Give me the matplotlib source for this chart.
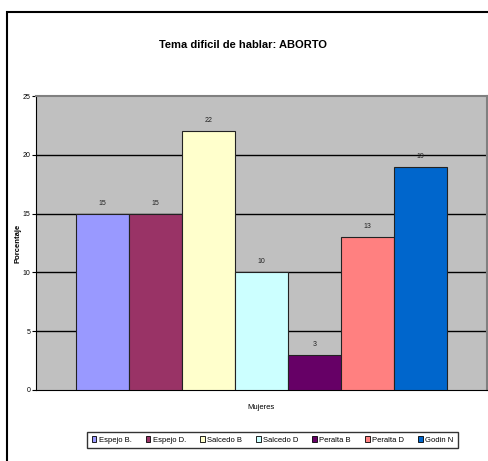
import matplotlib
matplotlib.use("Agg")
import matplotlib.pyplot as plt
from matplotlib.patches import Rectangle, Patch

series = ["Espejo B.", "Espejo D.", "Salcedo B", "Salcedo D", "Peralta B", "Peralta D", "Godin N"]
values = [15, 15, 22, 10, 3, 13, 19]
colors = ["#9999FF", "#993366", "#FFFFCC", "#CCFFFF", "#660066", "#FF8080", "#0066CC"]
yticks = [0, 5, 10, 15, 20, 25]

plt.rcParams['font.family'] = ['Liberation Sans', 'DejaVu Sans']

W, H = 489, 461
fig = plt.figure(figsize=(W/100, H/100), dpi=100)

# outer border
fig.patches.append(Rectangle((7/W, -0.1), 1.2, 1 - 12/H + 0.1, transform=fig.transFigure,
                             fill=False, edgecolor='black', linewidth=1.5))

ax = fig.add_axes([36/W, 1 - 390/H, 451/W, (390 - 96)/H])
ax.set_facecolor('#C0C0C0')

n = len(values)
pos = [i - (n - 1)/2 for i in range(n)]
for p, v, c, s in zip(pos, values, colors, series):
    ax.bar(p, v, width=1.0, color=c, edgecolor='#222222', linewidth=0.8, label=s, zorder=3)
    ax.text(p, v + 0.6, str(v), ha='center', va='bottom', fontsize=5, color='#222222', zorder=4)

ax.set_xlim(-4.25, 4.25)
ax.set_ylim(0, 25)
ax.set_yticks(yticks)
ax.set_yticklabels([str(t) for t in yticks], fontsize=5)
ax.set_xticks([])
for y in yticks[1:-1]:
    ax.axhline(y, color='black', linewidth=1.0, zorder=2)

for side in ['top', 'right']:
    ax.spines[side].set_color('#808080')
    ax.spines[side].set_linewidth(1.5)
ax.spines['left'].set_color('black')
ax.spines['bottom'].set_color('black')
ax.tick_params(axis='y', direction='out', length=3, width=0.8, pad=1)

ax.set_ylabel('Porcentaje', fontsize=5.5, fontweight='bold', labelpad=1)
ax.set_xlabel('Mujeres', fontsize=5.5, labelpad=10)

fig.text(243/W, 1 - 45/H, 'Tema dificil de hablar: ABORTO', ha='center', va='center',
         fontsize=8, fontweight='bold')

handles = [Patch(facecolor=c, edgecolor='black', linewidth=0.6, label=s) for c, s in zip(colors, series)]
leg = fig.legend(handles=handles, loc='center', bbox_to_anchor=(272.5/W, 1 - 440/H), ncol=7,
                 fontsize=5.5, frameon=True, fancybox=False, edgecolor='black',
                 handlelength=0.6, handleheight=0.7, handletextpad=0.3, columnspacing=1.85,
                 borderpad=0.6)
leg.get_frame().set_linewidth(1.0)

fig.savefig('out.png', dpi=100)
